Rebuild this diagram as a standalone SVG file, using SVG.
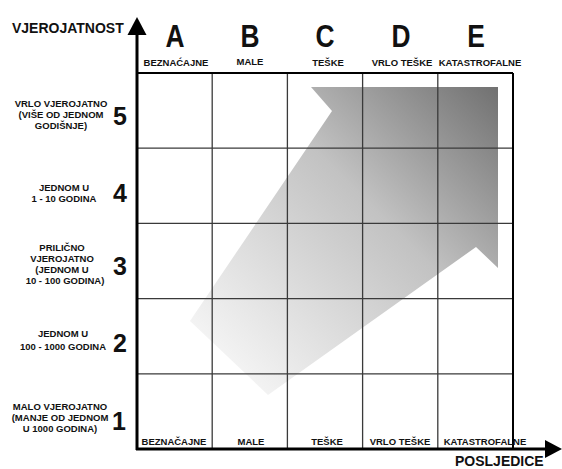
<svg xmlns="http://www.w3.org/2000/svg" width="562" height="469" viewBox="0 0 562 469">
<style>
text{font-family:"Liberation Sans",Arial,sans-serif;font-weight:bold;fill:#111}
.lbl{font-size:9.5px;text-anchor:middle}
.big{font-size:31px;text-anchor:middle}
.num{font-size:25px;text-anchor:middle}
.axis{font-size:14px}
.grid{stroke:#3a3a3a;stroke-width:1.3;fill:none}
.ax{stroke:#000;stroke-width:3;fill:none}
</style>
<defs>
<linearGradient id="ag" gradientUnits="userSpaceOnUse" x1="500" y1="87" x2="225" y2="362">
<stop offset="0" stop-color="#707070"/>
<stop offset="0.45" stop-color="#c2c2c2"/>
<stop offset="1" stop-color="#f4f4f4"/>
</linearGradient>
</defs>
<rect width="562" height="469" fill="#fff"/>
<g id="trend-arrow">
<polygon points="311,87 498,87 498,268 476,247 268,395 190,321 332,111" fill="url(#ag)"/>
</g>
<g id="grid">
<line class="grid" x1="212.2" y1="73" x2="212.2" y2="449"/>
<line class="grid" x1="287.4" y1="73" x2="287.4" y2="449"/>
<line class="grid" x1="362.6" y1="73" x2="362.6" y2="449"/>
<line class="grid" x1="437.8" y1="73" x2="437.8" y2="449"/>
<line class="grid" x1="137" y1="148.2" x2="513" y2="148.2"/>
<line class="grid" x1="137" y1="223.4" x2="513" y2="223.4"/>
<line class="grid" x1="137" y1="298.6" x2="513" y2="298.6"/>
<line class="grid" x1="137" y1="373.8" x2="513" y2="373.8"/>
<line x1="137" y1="73" x2="513" y2="73" stroke="#000" stroke-width="2.2"/>
<line x1="513" y1="73" x2="513" y2="450" stroke="#000" stroke-width="2"/>
</g>
<g id="connectors">
<line class="ax" x1="137" y1="450" x2="137" y2="32"/>
<polygon points="137,17 146.5,35 127.5,35" fill="#000"/>
<line class="ax" x1="136" y1="449" x2="548" y2="449"/>
<polygon points="562,449 545,440 545,458" fill="#000"/>
</g>
<g id="axis-labels">
<text class="axis" x="12" y="33">VJEROJATNOST</text>
<text class="axis" x="455" y="466">POSLJEDICE</text>
</g>
<g id="col-A">
<text class="big" transform="translate(175,47) scale(0.85,1)">A</text>
<text class="lbl" x="176" y="66">BEZNAĆAJNE</text>
<text class="lbl" x="174" y="445">BEZNAČAJNE</text>
</g>
<g id="col-B">
<text class="big" transform="translate(250,47) scale(0.85,1)">B</text>
<text class="lbl" x="250" y="65">MALE</text>
<text class="lbl" x="251" y="445">MALE</text>
</g>
<g id="col-C">
<text class="big" transform="translate(325,47) scale(0.85,1)">C</text>
<text class="lbl" x="328" y="66">TEŠKE</text>
<text class="lbl" x="327" y="445">TEŠKE</text>
</g>
<g id="col-D">
<text class="big" transform="translate(401,47) scale(0.85,1)">D</text>
<text class="lbl" x="402" y="66">VRLO TEŠKE</text>
<text class="lbl" x="400" y="445">VRLO TEŠKE</text>
</g>
<g id="col-E">
<text class="big" transform="translate(476,47) scale(0.85,1)">E</text>
<text class="lbl" x="480" y="66">KATASTROFALNE</text>
<text class="lbl" x="485" y="445">KATASTROFALNE</text>
</g>
<g id="row-5">
<text class="lbl" x="61" y="107">VRLO VJEROJATNO</text>
<text class="lbl" x="61" y="118">(VIŠE OD JEDNOM</text>
<text class="lbl" x="61" y="129">GODIŠNJE)</text>
<text class="num" x="120" y="125">5</text>
</g>
<g id="row-4">
<text class="lbl" x="64" y="191">JEDNOM U</text>
<text class="lbl" x="64" y="202">1 - 10 GODINA</text>
<text class="num" x="120" y="202">4</text>
</g>
<g id="row-3">
<text class="lbl" x="62" y="251">PRILIČNO</text>
<text class="lbl" x="62" y="262">VJEROJATNO</text>
<text class="lbl" x="62" y="273">(JEDNOM U</text>
<text class="lbl" x="65" y="284">10 - 100 GODINA)</text>
<text class="num" x="120" y="275">3</text>
</g>
<g id="row-2">
<text class="lbl" x="63" y="337">JEDNOM U</text>
<text class="lbl" x="63" y="350">100 - 1000 GODINA</text>
<text class="num" x="120" y="352">2</text>
</g>
<g id="row-1">
<text class="lbl" x="60" y="410">MALO VJEROJATNO</text>
<text class="lbl" x="60" y="421">(MANJE OD JEDNOM</text>
<text class="lbl" x="60" y="432">U 1000 GODINA)</text>
<text class="num" x="119" y="430">1</text>
</g>
</svg>
